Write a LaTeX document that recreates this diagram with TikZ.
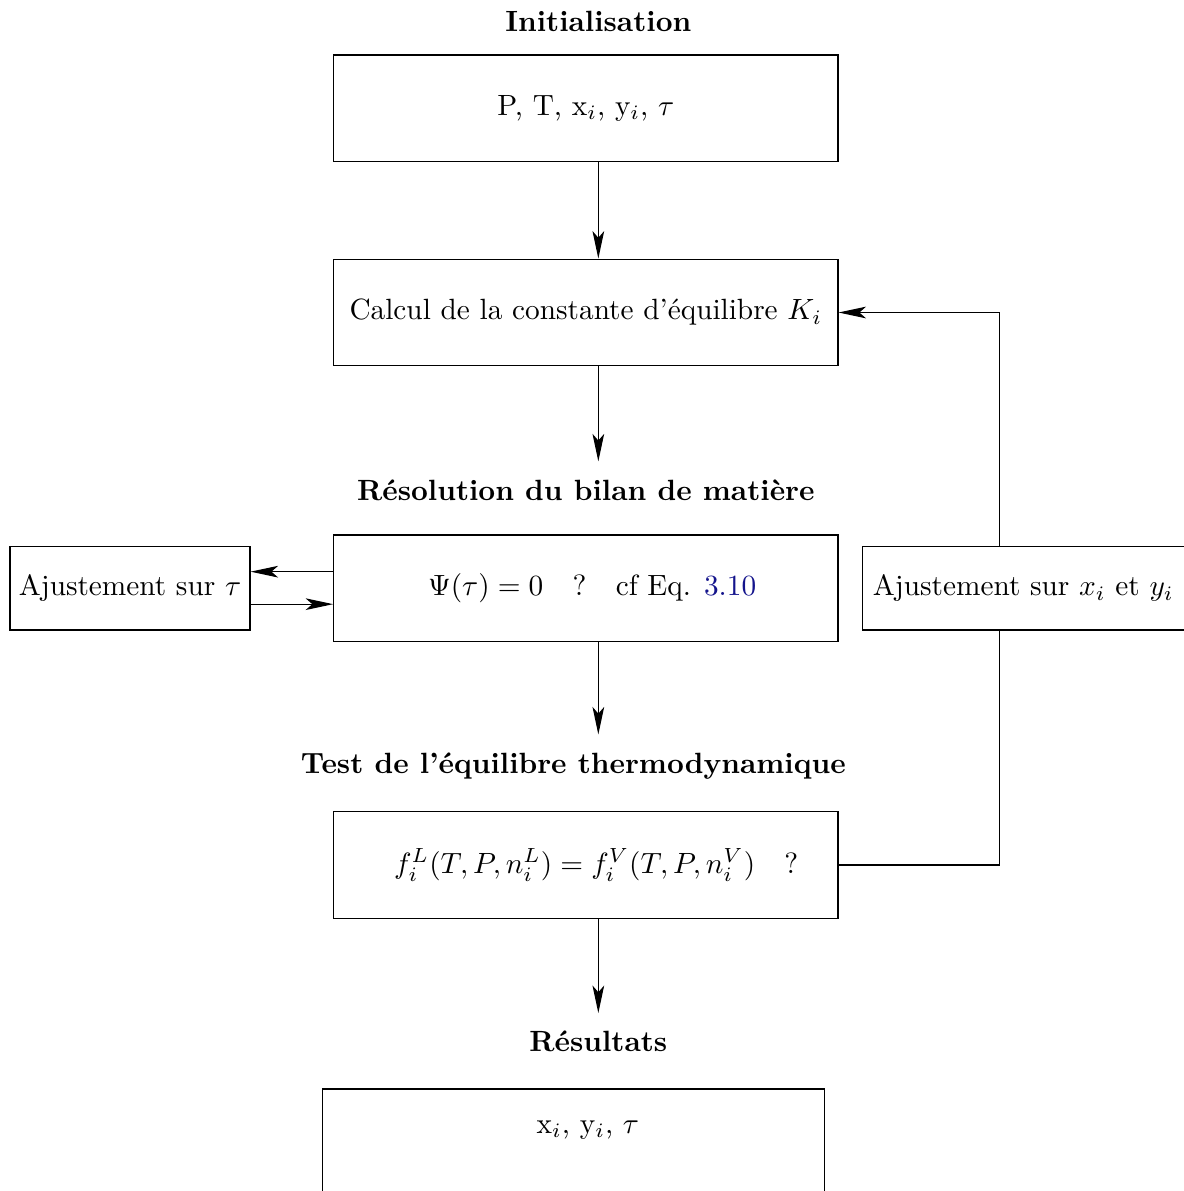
\documentclass[tikz,border=0pt]{standalone}
\usepackage{amsmath, amssymb}
\usepackage{xcolor}
\usepackage{tikz}
\usetikzlibrary{
  arrows.meta,
  positioning
}
\definecolor{RefBlue}{RGB}{20, 20, 140}

\begin{document}
\begin{tikzpicture}[
    etape/.style={rectangle, draw, minimum width=6.05cm, minimum height=1.28cm, align=center},
    ajust/.style={rectangle, draw, minimum height=1.0cm, align=center, inner xsep=2pt},
    titre/.style={font=\bfseries, inner sep=6pt},
    fleche/.style={-{Stealth[length=3.3mm, width=1.4mm, inset=0.8mm]}}
  ]
  \useasboundingbox (0,0) rectangle (14.196,-14.292);

  % blocs principaux
  \node[titre] (tInit) at (7.18,-0.26) {Initialisation};
  \node[etape] (init) at (7.03,-1.30) {P, T, x$_i$, y$_i$, $\tau$};
  \node[etape] (calcK) at (7.03,-3.75) {Calcul de la constante d'\'equilibre $K_i$};
  \node[titre] (tBilan) at (7.03,-5.88) {R\'esolution du bilan de mati\`ere};
  \node[etape] (bilan) at (7.03,-7.06) {\hspace{0.15cm}$\Psi(\tau) = 0 \quad ? \quad$cf Eq. \textcolor{RefBlue}{3.10}};
  \node[titre] (tTest) at (6.88,-9.19) {Test de l'\'equilibre thermodynamique};
  \node[etape] (test) at (7.03,-10.38) {\hspace{0.25cm}$f_i^L(T,P,n_i^L) = f_i^V(T,P,n_i^V) \quad ?$};
  \node[titre] (tRes) at (7.18,-12.50) {R\'esultats};
  \node[rectangle, draw, minimum width=6.02cm, anchor=north, inner ysep=0.38cm, text depth=1cm] (res) at (6.88,-13.06) {\hspace{0.35cm}x$_i$, y$_i$, $\tau$};

  % ajustements
  \node[ajust, minimum width=2.88cm] (ajTau) at (1.56,-7.06) {Ajustement sur $\tau$};
  \node[ajust, minimum width=3.86cm] (ajXY) at (12.28,-7.06) {Ajustement sur $x_i$ et $y_i$};
  \coordinate (haut) at (11.99,-3.75);
  \coordinate (bas) at (11.99,-10.38);

  % fleches
  \draw[fleche] (init.south -| tInit) -- (calcK.north -| tInit);
  \draw[fleche] (calcK.south -| tInit) -- (tBilan.north -| tInit);
  \draw[fleche] (bilan.south -| tInit) -- (tTest.north -| tInit);
  \draw[fleche] (test.south -| tInit) -- (tRes.north -| tInit);

  \draw[fleche] ([yshift=0.2cm]bilan.west) -- ([yshift=0.2cm]ajTau.east);
  \draw[fleche] ([yshift=-0.19cm]ajTau.east) -- ([yshift=-0.19cm]bilan.west);

  \draw (test.east) -- (bas) -- (ajXY.south -| bas);
  \draw[fleche] (ajXY.north -| haut) -- (haut) -- (calcK.east);
\end{tikzpicture}
\end{document}
